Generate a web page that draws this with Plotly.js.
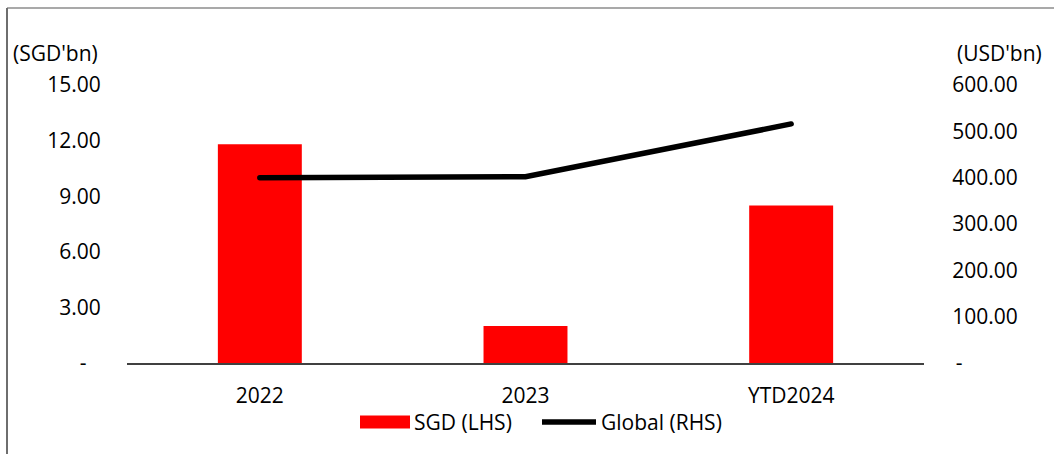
<!DOCTYPE html>
<html>
<head>
<meta charset="utf-8">
<script src="https://cdn.plot.ly/plotly-3.0.1.min.js"></script>
<style>
  html, body { margin: 0; padding: 0; background: #fff; }
  #chart { width: 1054px; height: 454px; }
  #chart .scatterlayer .js-line { stroke-linecap: round; }
</style>
</head>
<body>
<div id="chart"></div>
<script>
// Issuance by year
const categories = ['2022', '2023', 'YTD2024'];
const sgdValues = [11.8, 2.0, 8.5];        // SGD bn, left axis
const globalValues = [400, 402, 516];      // USD bn, right axis
const sgdName = 'SGD (LHS)';
const globalName = 'Global (RHS)';
const leftTicks = [0, 3, 6, 9, 12, 15];
const rightTicks = [0, 100, 200, 300, 400, 500, 600];

const W = 1054, H = 454;
const M = { l: 127, r: 130, t: 85, b: 91 };
const plotW = W - M.l - M.r, plotH = H - M.t - M.b;
const px = x => (x - M.l) / plotW;          // pixel -> paper x
const py = y => (H - M.b - y) / plotH;      // pixel -> paper y

const FONT = 'Open Sans, sans-serif';
const fmt = (v, d) => v === 0 ? d : v.toFixed(2);

const traces = [
  {
    type: 'bar', name: sgdName, x: categories, y: sgdValues,
    marker: { color: '#ff0000' }, yaxis: 'y', hoverinfo: 'x+y'
  },
  {
    type: 'scatter', mode: 'lines', name: globalName, x: categories, y: globalValues,
    line: { color: '#000000', width: 5.5 }, yaxis: 'y2', hoverinfo: 'x+y'
  }
];

const shapes = [
  // outer frame
  { type: 'line', xref: 'paper', yref: 'paper', x0: px(7), x1: px(W + 5), y0: py(8), y1: py(8),
    line: { color: '#8c8c8c', width: 1.5 } },
  { type: 'line', xref: 'paper', yref: 'paper', x0: px(7), x1: px(7), y0: py(8), y1: py(H + 5),
    line: { color: '#6e6e6e', width: 2 } },
  // legend keys
  { type: 'rect', xref: 'paper', yref: 'paper', x0: px(360), x1: px(410), y0: py(415.5), y1: py(428.5),
    fillcolor: '#ff0000', line: { width: 0 } },
  { type: 'line', xref: 'paper', yref: 'paper', x0: px(542), x1: px(596), y0: py(422), y1: py(422),
    line: { color: '#000000', width: 5.5 } }
];

const txt = (text, x, y, anchor) => ({
  text, xref: 'paper', yref: 'paper', x: px(x), y: py(y),
  xanchor: anchor, yanchor: 'middle', showarrow: false,
  font: { family: FONT, size: 21, color: '#000' }
});

const annotations = [
  txt("(SGD'bn)", 100, 53, 'right'),
  txt("(USD'bn)", 1044, 53, 'right'),
  txt(sgdName, 412, 422, 'left'),
  txt(globalName, 599, 422, 'left')
];

const layout = {
  width: W, height: H,
  margin: M,
  paper_bgcolor: '#fff', plot_bgcolor: '#fff',
  showlegend: false,
  bargap: 0.684,
  font: { family: FONT, size: 21, color: '#000' },
  xaxis: {
    type: 'category', showgrid: false, zeroline: false,
    showline: true, linecolor: '#404040', linewidth: 1.5,
    ticks: 'outside', ticklen: 13, tickcolor: 'rgba(0,0,0,0)',
    tickfont: { family: FONT, size: 21, color: '#000' }
  },
  yaxis: {
    range: [0, 15], showgrid: false, zeroline: false, showline: false,
    tickvals: leftTicks, ticktext: leftTicks.map(v => fmt(v, '-\u00a0\u00a0\u2009')),
    ticks: 'outside', ticklen: 21, tickcolor: 'rgba(0,0,0,0)',
    tickfont: { family: FONT, size: 21, color: '#000' }
  },
  yaxis2: {
    overlaying: 'y', side: 'right', range: [0, 600],
    showgrid: false, zeroline: false, showline: false,
    tickvals: rightTicks, ticktext: rightTicks.map(v => fmt(v, '\u2009-')),
    ticks: 'outside', ticklen: 23, tickcolor: 'rgba(0,0,0,0)',
    tickfont: { family: FONT, size: 21, color: '#000' }
  },
  shapes, annotations
};

Plotly.newPlot('chart', traces, layout, { displayModeBar: false, staticPlot: true });
</script>
</body>
</html>
